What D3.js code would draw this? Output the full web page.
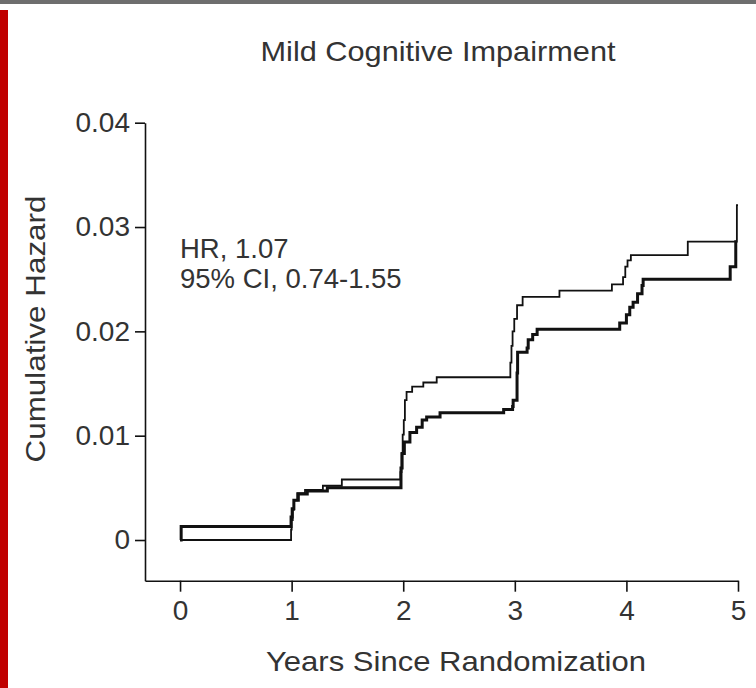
<!DOCTYPE html>
<html>
<head>
<meta charset="utf-8">
<script src="https://cdn.jsdelivr.net/npm/d3@7"></script>
<style>
  body { margin: 0; background: #fff; }
  text { font-family: 'Liberation Sans', Arial, sans-serif; fill: #333; }
</style>
</head>
<body>
<svg class="chart"></svg>
<script>
const width = 756
const height = 688

// tick labels
const xTicks = [0, 1, 2, 3, 4, 5]
const yTicks = [0, 0.01, 0.02, 0.03, 0.04]

// thin curve: [years, cumulative hazard]
const thinCurve = [
  [0, 0], [0.995, 0.001], [1.0, 0.0019], [1.01, 0.0029], [1.02, 0.0038],
  [1.05, 0.0045], [1.12, 0.0048], [1.28, 0.0052], [1.45, 0.0058],
  [1.975, 0.0065], [1.985, 0.0083], [1.995, 0.0101], [2.005, 0.0115],
  [2.015, 0.0134], [2.03, 0.0142], [2.08, 0.0147], [2.18, 0.0151],
  [2.3, 0.0156], [2.96, 0.017], [2.97, 0.0186], [2.98, 0.02],
  [2.995, 0.0212], [3.02, 0.0225], [3.07, 0.0233], [3.4, 0.0239],
  [3.87, 0.0245], [3.97, 0.0252], [3.99, 0.0262], [4.01, 0.0268],
  [4.04, 0.0273], [4.55, 0.0286], [4.99, 0.0321], [5.0, 0.0321]
]

// thick curve
const thickCurve = [
  [0, 0], [0.01, 0.0013], [0.995, 0.0022], [1.005, 0.003], [1.02, 0.0038],
  [1.06, 0.0044], [1.14, 0.0047], [1.32, 0.005], [1.98, 0.0069],
  [1.99, 0.0083], [2.01, 0.0094], [2.06, 0.0103], [2.12, 0.0108],
  [2.17, 0.0115], [2.21, 0.0118], [2.33, 0.0122], [2.9, 0.0125],
  [2.98, 0.0128], [2.985, 0.0134], [3.02, 0.016], [3.025, 0.018],
  [3.11, 0.0184], [3.12, 0.0192], [3.16, 0.0197], [3.2, 0.0202],
  [3.94, 0.0208], [4.0, 0.0216], [4.03, 0.0223], [4.06, 0.0228],
  [4.1, 0.0236], [4.14, 0.0244], [4.15, 0.025], [4.93, 0.0262],
  [4.98, 0.0286], [4.985, 0.0286]
]

const annotation = ['HR, 1.07', '95% CI, 0.74-1.55']

const x = d3.scaleLinear().domain([-0.314, 5]).range([145, 738])
const y = d3.scaleLinear().domain([-0.0039, 0.04]).range([580.7, 122.7])

const svg = d3.select('.chart')
  .attr('width', width)
  .attr('height', height)
  .attr('viewBox', [0, 0, width, height])

// frame decorations
svg.append('rect').attr('x', 0).attr('y', 0).attr('width', width).attr('height', 4).attr('fill', '#6e6e6e')
svg.append('rect').attr('x', 0).attr('y', 10).attr('width', 8).attr('height', height - 10).attr('fill', '#c00000')

svg.append('text')
  .attr('x', 438)
  .attr('y', 61)
  .attr('text-anchor', 'middle')
  .attr('font-size', 28)
  .attr('textLength', 355)
  .attr('lengthAdjust', 'spacingAndGlyphs')
  .text('Mild Cognitive Impairment')

const xAxis = g => g
  .attr('transform', `translate(0,${y.range()[0]})`)
  .call(d3.axisBottom(x).tickValues(xTicks).tickFormat(d3.format('d')).tickSize(11).tickSizeOuter(0).tickPadding(8))
  .call(g => g.selectAll('path, line').attr('stroke', '#111').attr('stroke-width', 1.6))
  .call(g => g.selectAll('text').attr('font-size', 28).attr('font-family', null).attr('fill', null))

const yAxis = g => g
  .attr('transform', `translate(${x.range()[0]},0)`)
  .call(d3.axisLeft(y).tickValues(yTicks).tickFormat(d => d === 0 ? '0' : d3.format('.2f')(d)).tickSize(10).tickSizeOuter(0).tickPadding(5))
  .call(g => g.selectAll('path, line').attr('stroke', '#111').attr('stroke-width', 1.6))
  .call(g => g.selectAll('text').attr('font-size', 28).attr('font-family', null).attr('fill', null))

svg.append('g').call(xAxis)
svg.append('g').call(yAxis)

svg.append('text')
  .attr('x', 456)
  .attr('y', 671)
  .attr('text-anchor', 'middle')
  .attr('font-size', 28)
  .attr('textLength', 380)
  .attr('lengthAdjust', 'spacingAndGlyphs')
  .text('Years Since Randomization')

svg.append('text')
  .attr('transform', 'translate(45,329) rotate(-90)')
  .attr('text-anchor', 'middle')
  .attr('font-size', 28)
  .attr('textLength', 267)
  .attr('lengthAdjust', 'spacingAndGlyphs')
  .text('Cumulative Hazard')

svg.append('g')
  .selectAll('text')
  .data(annotation)
  .join('text')
  .attr('x', 180)
  .attr('y', (d, i) => 258 + i * 30)
  .attr('font-size', 27.5)
  .text(d => d)

const line = d3.line()
  .x(d => x(d[0]))
  .y(d => y(d[1]))
  .curve(d3.curveStepAfter)

svg.append('path')
  .datum(thickCurve)
  .attr('fill', 'none')
  .attr('stroke', '#111')
  .attr('stroke-width', 3)
  .attr('d', line)

svg.append('path')
  .datum(thinCurve)
  .attr('fill', 'none')
  .attr('stroke', '#111')
  .attr('stroke-width', 1.8)
  .attr('d', line)
</script>
</body>
</html>
